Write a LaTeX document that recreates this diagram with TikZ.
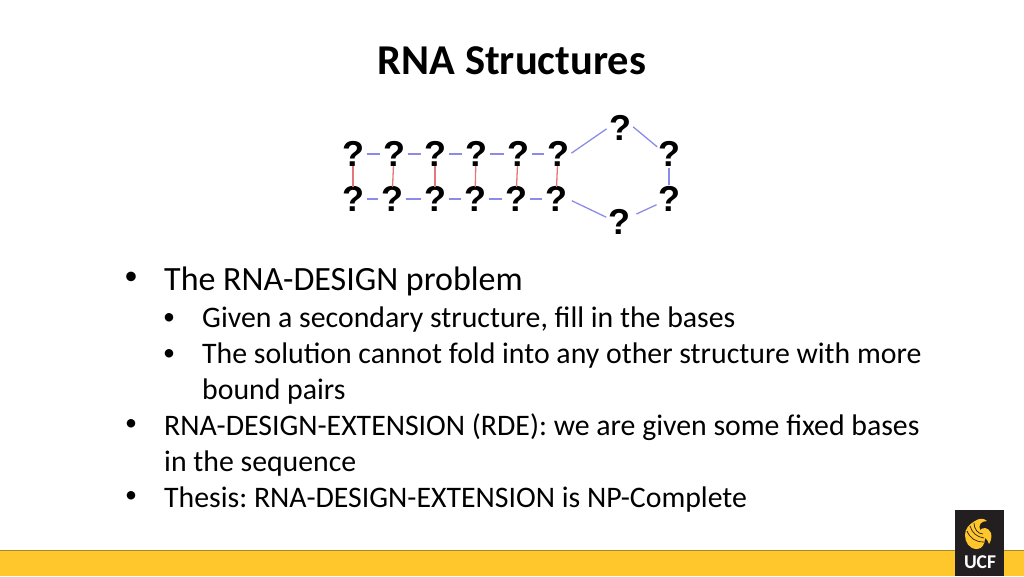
\documentclass[tikz,border=0pt]{standalone}
\usepackage{fontspec}
\setmainfont{Carlito}
\newfontfamily\qfont{Liberation Sans}
\definecolor{ucfgold}{HTML}{FFC72C}
\definecolor{barline}{HTML}{A08A2E}
\definecolor{logoblack}{HTML}{231F20}
\definecolor{pairred}{HTML}{E07A7A}
\definecolor{chainblue}{HTML}{8C8CE8}
\tikzset{
  qmark/.style={circle,inner sep=0pt,outer sep=-4.5pt,font=\qfont\bfseries\fontsize{36}{36}\selectfont},
  pairline/.style={draw=pairred,line width=1.3pt},
  chainline/.style={draw=chainblue,line width=1.3pt,shorten <=1.5pt,shorten >=1.5pt},
  bigtext/.style={anchor=base west,inner sep=0pt,font=\frenchspacing\fontsize{34}{36}\selectfont},
  subtext/.style={anchor=base west,inner sep=0pt,font=\frenchspacing\fontsize{29.8}{36}\selectfont},
  bigbullet/.style={inner sep=0pt,font=\fontsize{27}{27}\selectfont},
  subbullet/.style={inner sep=0pt,font=\fontsize{24}{24}\selectfont},
}

\begin{document}
\begin{tikzpicture}[x=1pt,y=-1pt]
\useasboundingbox (0,0) rectangle (1024,576);

% footer bar and logo
\fill[ucfgold] (0,550) rectangle (1024,576);
\draw[barline,line width=1pt] (0,550) -- (1024,550);
\fill[logoblack] (955,510) rectangle (1004,576);
\fill[ucfgold] (975,521) .. controls (979,518) and (984,518) .. (987,521) .. controls (981,521) and (978,525) .. (980,530) .. controls (983,527) and (988,527) .. (991,533) .. controls (992,537) and (991,541) .. (989,544) .. controls (988,541) and (987,539) .. (985,538) .. controls (985,544) and (982,549) .. (977,549) .. controls (969,549) and (965,542) .. (965,535) .. controls (965,529) and (969,524) .. (975,521) -- cycle;
\draw[logoblack,line width=0.7pt] (967,531) .. controls (970,538) and (975,542) .. (984,542);
\draw[logoblack,line width=0.7pt] (970,526) .. controls (972,533) and (977,537) .. (984,538);
\draw[logoblack,line width=0.7pt] (974,523) .. controls (974,529) and (978,534) .. (983,534);
\node[text=white,inner sep=0pt,font=\bfseries\fontsize{19.5}{20}\selectfont] (logo) at (980,562.5) {UCF};

\node[inner sep=0pt,font=\bfseries\fontsize{42.5}{44}\selectfont] (title) at (512,60.5) {RNA Structures};

% top strand
\node[qmark] (T1) at (353,154) {?};
\node[qmark] (T2) at (394,154) {?};
\node[qmark] (T3) at (435,154) {?};
\node[qmark] (T4) at (476,154) {?};
\node[qmark] (T5) at (518,154) {?};
\node[qmark] (T6) at (558,154) {?};
% bottom strand
\node[qmark] (B1) at (353,199) {?};
\node[qmark] (B2) at (392,199) {?};
\node[qmark] (B3) at (435,199) {?};
\node[qmark] (B4) at (475,199) {?};
\node[qmark] (B5) at (516,199) {?};
\node[qmark] (B6) at (556,199) {?};
% loop
\node[qmark] (L1) at (620,128) {?};
\node[qmark] (L2) at (669,154) {?};
\node[qmark] (L3) at (669,199) {?};
\node[qmark] (L4) at (619,222) {?};

\foreach \i in {1,...,6} {
  \draw[pairline] (T\i) -- (B\i);
}
\foreach \i/\j in {1/2,2/3,3/4,4/5,5/6} {
  \draw[chainline] (T\i) -- (T\j);
  \draw[chainline] (B\i) -- (B\j);
}
\draw[chainline] (T6.east) -- (L1.west);
\draw[chainline] (L1.10) -- (L2.150);
\draw[chainline] (L2) -- (L3);
\draw[chainline,shorten >=7pt] (L3) -- (L4);
\draw[chainline,shorten >=4pt] (L4.160) -- (B6.east);

% bullets
\node[bigbullet] (b1) at (131,278.5) {•};
\node[bigtext] (t1) at (164,290.5) {The RNA-DESIGN problem};
\node[subbullet] (b2) at (169,319) {•};
\node[subtext] (t2) at (202,327.5) {Given a secondary structure, fill in the bases};
\node[subbullet] (b3) at (169,354.8) {•};
\node[subtext] (t3) at (202,363.5) {The solution cannot fold into any other structure with more};
\node[subtext] (t3a) at (202,399.5) {bound pairs};
\node[subbullet] (b4) at (131,425) {•};
\node[subtext] (t4) at (164,435.5) {RNA-DESIGN-EXTENSION (RDE): we are given some fixed bases};
\node[subtext] (t4a) at (164,471.5) {in the sequence};
\node[subbullet] (b5) at (131,497) {•};
\node[subtext] (t5) at (164,507.5) {Thesis: RNA-DESIGN-EXTENSION is NP-Complete};

\end{tikzpicture}
\end{document}
